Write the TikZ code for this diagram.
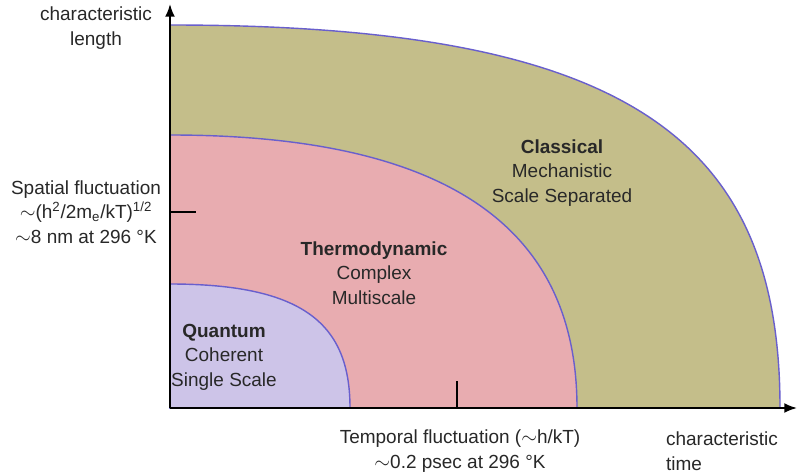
\documentclass[tikz,border=0pt]{standalone}
\usepackage{fontspec}
\setmainfont{Liberation Sans}
\usetikzlibrary{arrows.meta}
\definecolor{olivefill}{RGB}{196,190,138}
\definecolor{pinkfill}{RGB}{232,172,176}
\definecolor{lavfill}{RGB}{205,196,232}
\definecolor{rim}{RGB}{105,95,205}
\definecolor{txt}{RGB}{40,40,40}
\tikzset{region/.style={draw=rim, line width=1pt},
  lbl/.style={align=center, text=txt, font=\fontsize{13.5}{17.5}\selectfont, inner sep=0pt},
  axis/.style={line width=1.3pt, -{Latex[length=9pt,width=7pt]}}}
\begin{document}
\begin{tikzpicture}[x=0.025cm,y=-0.025cm]
	\useasboundingbox (0,0) rectangle (800,473);
	\fill[white] (0,0) rectangle (800,473);
	% regions
	\path [region, fill=olivefill] (170,408) -- (170,25) .. controls (630,25) and (780,140) .. (780,408) -- cycle;
	\path [region, fill=pinkfill] (170,408) -- (170,135) .. controls (465,135) and (577,240) .. (577,408) -- cycle;
	\path [region, fill=lavfill] (170,408) -- (170,284) .. controls (305,284) and (350,325) .. (350,408) -- cycle;
	% axes
	\coordinate (O) at (170,408);
	\coordinate (ytop) at (170,4);
	\coordinate (xend) at (797,408);
	\coordinate (ytick) at (196,212);
	\coordinate (xtick) at (457,381);
	\draw [axis] (O) -- (ytop);
	\draw [axis] (O) -- (xend);
	\draw [line width=1.3pt] (170,212) -- (ytick);
	\draw [line width=1.3pt] (457,408) -- (xtick);
	% labels
	\node [lbl] (ylab) at (96,28) {characteristic\\length};
	\node [lbl, align=left] (xlab) at (722,451) {characteristic\\time};
	\node [lbl] (spatial) at (86,212) {Spatial fluctuation\\$\sim$(h\textsuperscript{2}/2m\textsubscript{e}/kT)\textsuperscript{1/2}\\$\sim$8 nm at 296 °K};
	\node [lbl] (temporal) at (460,451) {Temporal fluctuation ($\sim$h/kT)\\$\sim$0.2 psec at 296 °K};
	\node [lbl] (classical) at (562,173) {\textbf{Classical}\\Mechanistic\\Scale Separated};
	\node [lbl] (thermo) at (374,273) {\textbf{Thermodynamic}\\Complex\\Multiscale};
	\node [lbl] (quantum) at (224,357) {\textbf{Quantum}\\Coherent\\Single Scale};
\end{tikzpicture}
\end{document}
